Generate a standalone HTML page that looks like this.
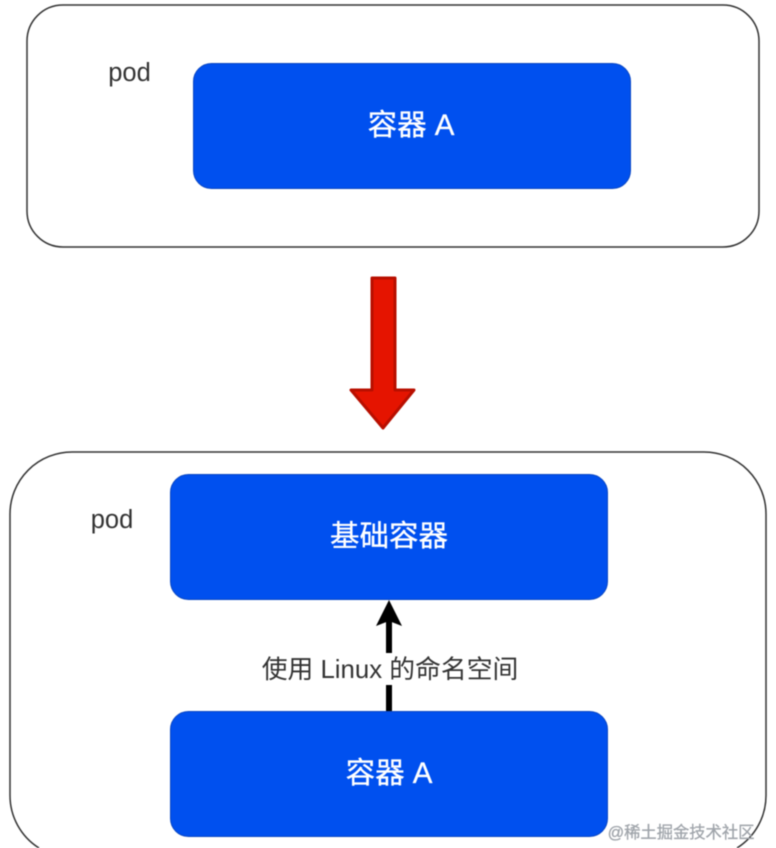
<!DOCTYPE html>
<html>
<head>
<meta charset="utf-8">
<style>
html,body{margin:0;padding:0;background:#fff;width:776px;height:848px;overflow:hidden}
svg{display:block;font-family:"Liberation Sans","Noto Sans CJK SC",sans-serif}
</style>
</head>
<body>
<svg width="776" height="848" viewBox="0 0 776 848" style="filter:blur(0.45px)">
<rect x="27" y="5" width="732" height="242" rx="36" fill="#fff" stroke="#333" stroke-width="1.5"/>
<rect x="193.500" y="63.500" width="437" height="125" rx="18" fill="#0050ef" stroke="#0a47c4" stroke-width="1"/>
<text x="411" y="135" font-size="29.500" fill="#fff" stroke="#fff" stroke-width="0.3" text-anchor="middle">容器 A</text>
<text x="129.500" y="81" font-size="25.500" fill="#333" text-anchor="middle">pod</text>

<path d="M372 278H395V390H414L383 428L351 390H372Z" fill="#e51400" stroke="#b80f00" stroke-width="3" stroke-linejoin="round"/>

<path d="M39 848A62 62 0 0 1 10 795.500V514A62 62 0 0 1 72 452H704A62 62 0 0 1 766 514V795.500A62 62 0 0 1 737 848" fill="#fff" stroke="#333" stroke-width="1.5"/>
<text x="112" y="528" font-size="25.500" fill="#333" text-anchor="middle">pod</text>
<rect x="170.500" y="474.500" width="437" height="125" rx="18" fill="#0050ef" stroke="#0a47c4" stroke-width="1"/>
<text x="389" y="546" font-size="29.500" fill="#fff" stroke="#fff" stroke-width="0.3" text-anchor="middle">基础容器</text>
<rect x="170.500" y="711.500" width="437" height="125" rx="18" fill="#0050ef" stroke="#0a47c4" stroke-width="1"/>
<text x="389" y="783" font-size="29.500" fill="#fff" stroke="#fff" stroke-width="0.3" text-anchor="middle">容器 A</text>

<rect x="386" y="620" width="6" height="33" fill="#000"/>
<rect x="386" y="685" width="6" height="26" fill="#000"/>
<path d="M389 600L402 626L389 621L376 626Z" fill="#000"/>
<text x="390" y="678" font-size="25.800" fill="#333" text-anchor="middle">使用 Linux 的命名空间</text>

<text x="681" y="838" font-size="16.300" fill="#a0a5ab" stroke="#a0a5ab" stroke-width="0.3" text-anchor="middle">@稀土掘金技术社区</text>
</svg>
</body>
</html>
